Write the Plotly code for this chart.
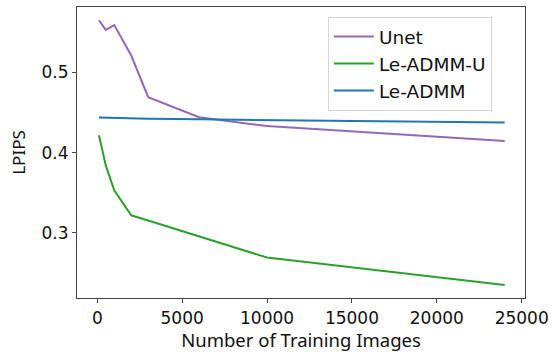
import plotly.graph_objects as go

num_images = [100, 500, 1000, 2000, 3000, 6000, 10000, 24000]
unet = [0.565, 0.553, 0.559, 0.521, 0.469, 0.444, 0.433, 0.4145]
le_admm_u = [0.4216, 0.384, 0.353, 0.3218, 0.3153, 0.2956, 0.2691, 0.235]
le_admm = [0.4436, 0.4433, 0.4430, 0.4425, 0.4423, 0.4415, 0.4405, 0.4374]

series_names = ["Unet", "Le-ADMM-U", "Le-ADMM"]
series_values = [unet, le_admm_u, le_admm]
series_colors = ["#9467bd", "#2ca02c", "#1f77b4"]

x_ticks = [0, 5000, 10000, 15000, 20000, 25000]
x_tick_labels = ["0", "5000", "10000", "15000", "20000", "25000"]
y_ticks = [0.3, 0.4, 0.5]
y_tick_labels = ["0.3", "0.4", "0.5"]

FONT = "DejaVu Sans"

fig = go.Figure()
for name, vals, col in zip(series_names, series_values, series_colors):
    fig.add_trace(go.Scatter(x=num_images, y=vals, mode="lines", name=name,
                             line=dict(color=col, width=2)))

fig.update_layout(
    width=553, height=353,
    margin=dict(l=77, r=28, t=7, b=55),
    plot_bgcolor="white", paper_bgcolor="white",
    font=dict(family=FONT, size=17, color="#111"),
    showlegend=True,
    legend=dict(x=0.56, y=0.966, xanchor="left", yanchor="top",
                bgcolor="white", bordercolor="#d6d6d6", borderwidth=1,
                itemwidth=40, tracegroupgap=4,
                font=dict(size=18.5, family=FONT, color="#111")),
)
fig.update_xaxes(range=[-1195, 25195], tickvals=x_ticks, ticktext=x_tick_labels,
                 automargin=False,
                 showgrid=False, zeroline=False,
                 showline=True, linecolor="#444", linewidth=1.2, mirror=True,
                 ticks="outside", ticklen=4, tickcolor="#444",
                 title=dict(text="Number of Training Images", standoff=2,
                            font=dict(size=18.5, family="Noto Sans")))
fig.update_yaxes(range=[0.2187, 0.5815], tickvals=y_ticks, ticktext=y_tick_labels,
                 automargin=False,
                 showgrid=False, zeroline=False,
                 showline=True, linecolor="#444", linewidth=1.2, mirror=True,
                 ticks="outside", ticklen=4, tickcolor="#444",
                 title=dict(text="LPIPS", standoff=11,
                            font=dict(size=17, family="Noto Sans")))

fig.write_html("out.html",
               config={"displayModeBar": False},
               post_script="document.body.style.margin='0';document.body.style.overflow='hidden';")
